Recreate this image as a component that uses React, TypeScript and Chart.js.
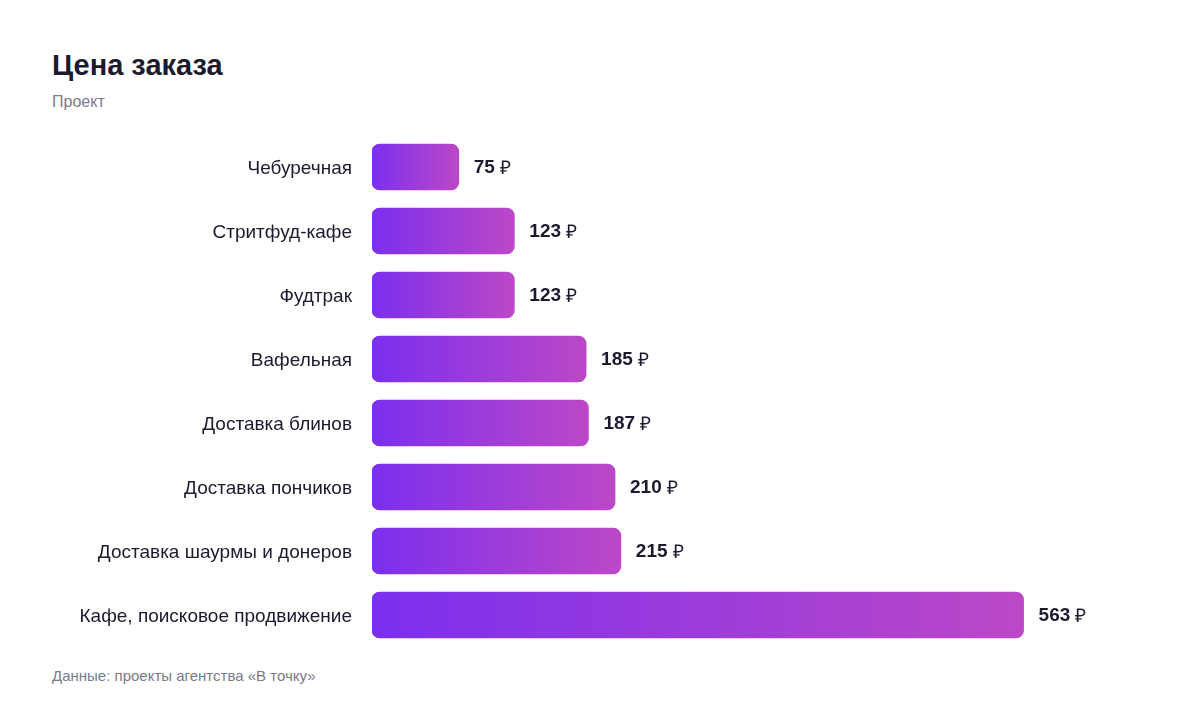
import { useEffect, useRef } from "react";
import { Chart, registerables } from "chart.js";

Chart.register(...registerables);

const categories = [
  "Чебуречная",
  "Стритфуд-кафе",
  "Фудтрак",
  "Вафельная",
  "Доставка блинов",
  "Доставка пончиков",
  "Доставка шаурмы и донеров",
  "Кафе, поисковое продвижение",
];
const prices = [75, 123, 123, 185, 187, 210, 215, 563];

const FONT = '"Liberation Sans", Arial, Helvetica, sans-serif';
const COLOR_FROM = "#7b2fee";
const COLOR_TO = "#bc48c7";

// value labels to the right of each bar: bold number + thin rouble sign
const valueLabels = {
  id: "valueLabels",
  afterDatasetsDraw(chart: Chart) {
    const { ctx } = chart;
    const meta = chart.getDatasetMeta(0);
    ctx.save();
    ctx.textBaseline = "middle";
    ctx.fillStyle = "#1b1a2e";
    meta.data.forEach((bar: any, i: number) => {
      const x = bar.x + 15;
      const y = bar.y + 1;
      const num = String(prices[i]);
      ctx.font = `bold 19px ${FONT}`;
      ctx.fillText(num, x, y);
      const w = ctx.measureText(num).width;
      ctx.font = `19px ${FONT}`;
      ctx.fillText("₽", x + w + 5, y + 1);
    });
    ctx.restore();
  },
};

export default function App() {
  const ref = useRef<HTMLCanvasElement>(null);

  useEffect(() => {
    document.body.style.margin = "0";
    const chart = new Chart(ref.current!, {
      type: "bar",
      data: {
        labels: categories,
        datasets: [
          {
            data: prices,
            barThickness: 46,
            borderRadius: 8,
            borderSkipped: false,
            backgroundColor: (c: any) => {
              const x = c.chart.scales?.x;
              if (!x || c.raw == null) return COLOR_FROM;
              const x0 = x.getPixelForValue(0);
              const x1 = x.getPixelForValue(c.raw);
              if (!Number.isFinite(x0) || !Number.isFinite(x1) || x1 <= x0) return COLOR_FROM;
              const g = c.chart.ctx.createLinearGradient(x0, 0, x1, 0);
              g.addColorStop(0, COLOR_FROM);
              g.addColorStop(1, COLOR_TO);
              return g;
            },
          },
        ],
      },
      options: {
        indexAxis: "y",
        animation: false,
        responsive: false,
        maintainAspectRatio: false,
        layout: { padding: { left: 0, right: 100, top: 0, bottom: 0 } },
        plugins: { legend: { display: false }, tooltip: { enabled: false } },
        scales: {
          x: { display: false, min: 0, max: 629 },
          y: {
            grid: { display: false, drawTicks: false },
            border: { display: false },
            ticks: { padding: 20, labelOffset: 2, color: "#1b1a2e", font: { family: FONT, size: 19 } },
            afterFit: (axis: any) => {
              axis.width = 372;
              axis.paddingTop = 0;
              axis.paddingBottom = 0;
            },
          },
        },
      },
      plugins: [valueLabels],
    });
    return () => chart.destroy();
  }, []);

  return (
    <div style={{ position: "relative", width: 1200, height: 712, background: "#fff", fontFamily: FONT }}>
      <div style={{ position: "absolute", left: 52, top: 49, fontSize: 29, fontWeight: 700, color: "#1b1a2e" }}>
        Цена заказа
      </div>
      <div style={{ position: "absolute", left: 52, top: 93, fontSize: 16, color: "#7a7a8c" }}>Проект</div>
      <canvas ref={ref} width={1200} height={512} style={{ position: "absolute", left: 0, top: 135 }} />
      <div style={{ position: "absolute", left: 52, top: 667, fontSize: 15, color: "#7a7a8c" }}>
        Данные: проекты агентства «В точку»
      </div>
    </div>
  );
}
